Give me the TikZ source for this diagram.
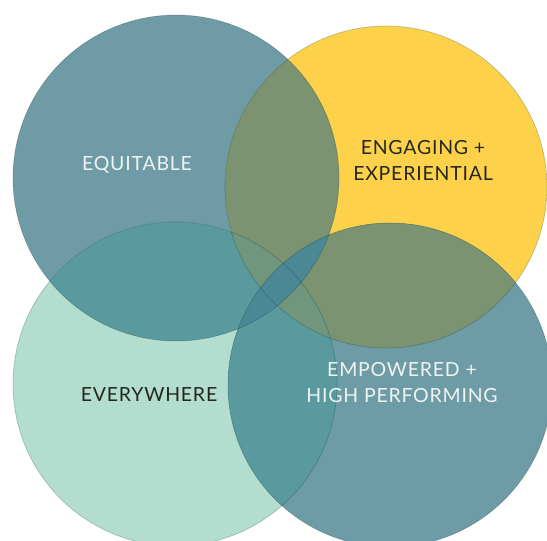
\documentclass[tikz,border=0pt]{standalone}
\usepackage{fontspec}
\setmainfont{Lato}[LetterSpace=4]

\definecolor{eqblue}{RGB}{111,155,166}
\definecolor{engyellow}{RGB}{253,210,74}
\definecolor{evmint}{RGB}{179,222,207}
\definecolor{empblue}{RGB}{110,156,166}
\definecolor{olivemix}{RGB}{123,147,112}
\definecolor{tealmix}{RGB}{90,154,158}
\definecolor{greenmix}{RGB}{112,150,125}
\definecolor{lensmix}{RGB}{75,135,148}
\definecolor{lighttext}{RGB}{238,243,242}
\definecolor{darktext}{RGB}{37,40,31}

\begin{document}
\begin{tikzpicture}[x=1pt,y=-1pt,
    ring/.style={draw=black!60!teal,draw opacity=0.25,line width=0.7pt},
    label node/.style={font=\fontsize{19.5}{26}\selectfont,align=center}]

    \useasboundingbox (0,0) rectangle (547,541);
    \clip (0,0) rectangle (547,541);

    \coordinate (eq) at (176,178);
    \coordinate (eng) at (386,187);
    \coordinate (ev) at (175,384);
    \coordinate (emp) at (390,385);

    % single circles
    \fill[eqblue] (eq) circle (163);
    \fill[engyellow] (eng) circle (161);
    \fill[evmint] (ev) circle (162);
    \fill[empblue] (emp) circle (162);

    % pairwise overlaps
    \begin{scope}
        \clip (eq) circle (163);
        \fill[olivemix] (eng) circle (161);
        \fill[tealmix] (ev) circle (162);
        \clip (eng) circle (161);
        \fill[greenmix] (ev) circle (162);
    \end{scope}
    \begin{scope}
        \clip (emp) circle (162);
        \fill[olivemix] (eng) circle (161);
        \fill[tealmix] (ev) circle (162);
        \clip (eng) circle (161);
        \fill[greenmix] (ev) circle (162);
    \end{scope}
    \begin{scope}
        \clip (eq) circle (163);
        \fill[lensmix] (emp) circle (162);
    \end{scope}

    % outlines
    \draw[ring] (eq) circle (163);
    \draw[ring] (eng) circle (161);
    \draw[ring] (ev) circle (162);
    \draw[ring] (emp) circle (162);

    \node[label node,text=lighttext] (equitable) at (137,165) {EQUITABLE};
    \node[label node,text=darktext] (engaging) at (423,160) {ENGAGING +\\EXPERIENTIAL};
    \node[label node,text=darktext] (everywhere) at (149,395) {EVERYWHERE};
    \node[label node,text=lighttext] (empowered) at (402,383) {EMPOWERED +\\HIGH PERFORMING};
\end{tikzpicture}
\end{document}
